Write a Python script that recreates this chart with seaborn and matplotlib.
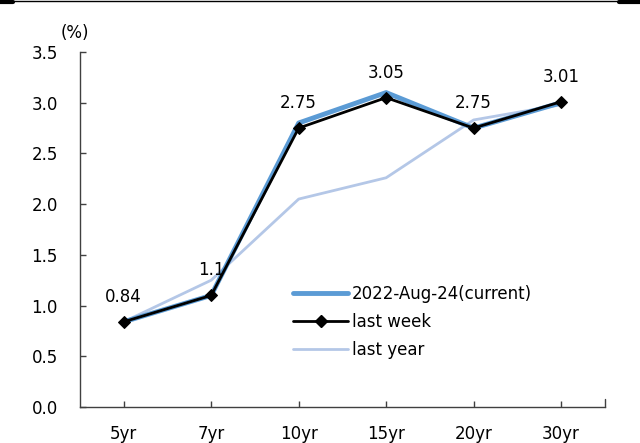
import matplotlib
matplotlib.use("Agg")
import matplotlib.pyplot as plt
import seaborn as sns
import pandas as pd
from matplotlib.lines import Line2D

tenors = ["5yr", "7yr", "10yr", "15yr", "20yr", "30yr"]
current = [0.84, 1.10, 2.80, 3.10, 2.75, 3.00]
last_week = [0.84, 1.10, 2.75, 3.05, 2.75, 3.01]
last_year = [0.84, 1.25, 2.05, 2.26, 2.83, 2.98]
label_values = last_week
series_names = ["2022-Aug-24(current)", "last week", "last year"]
y_ticks = [0.0, 0.5, 1.0, 1.5, 2.0, 2.5, 3.0, 3.5]

sns.set_theme(style="white")
plt.rcParams["font.family"] = ["DejaVu Sans"]
plt.rcParams["text.color"] = "black"
FS = 12

fig = plt.figure(figsize=(6.4, 4.43), dpi=100)
ax = fig.add_axes([0.125, 0.0813, 0.82, 0.8013])

df = pd.DataFrame({"tenor": tenors, "current": current,
                   "last_week": last_week, "last_year": last_year})

sns.lineplot(data=df, x="tenor", y="last_year", ax=ax, color="#B4C7E7",
             linewidth=2.0, sort=False, zorder=2)
sns.lineplot(data=df, x="tenor", y="current", ax=ax, color="#5B9BD5",
             linewidth=3.5, sort=False, zorder=3)
sns.lineplot(data=df, x="tenor", y="last_week", ax=ax, color="black",
             linewidth=2.0, marker="D", markersize=6, markeredgecolor="black",
             sort=False, zorder=4)

for i, v in enumerate(label_values):
    ax.annotate(f"{v:g}", (i, v), xytext=(0, 18), textcoords="offset points",
                ha="center", va="center", fontsize=FS, color="black")

ax.set_xlim(-0.5, len(tenors) - 0.5)
ax.set_ylim(0, 3.5)
ax.set_yticks(y_ticks)
ax.set_yticklabels([f"{t:.1f}" for t in y_ticks])
ax.set_xticks(range(len(tenors)))
ax.set_xticklabels(tenors)
ax.set_xlabel("")
ax.set_ylabel("")

for s in ["top", "right"]:
    ax.spines[s].set_visible(False)
for s in ["left", "bottom"]:
    ax.spines[s].set_color("#404040")
    ax.spines[s].set_linewidth(1.0)

ax.tick_params(axis="both", direction="in", length=4, width=1.0,
               color="#404040", labelsize=FS, labelcolor="black")
ax.tick_params(axis="y", pad=16, left=True)
ax.tick_params(axis="x", pad=13, bottom=True)

# closing tick at the right end of the category axis
ax.plot([len(tenors) - 0.5] * 2, [0, 0.08], color="#404040", lw=1.0,
        clip_on=False)

ax.text(-0.01, 1.053, "(%)", transform=ax.transAxes, fontsize=FS,
        ha="center", va="center", color="black")

handles = [
    Line2D([], [], color="#5B9BD5", linewidth=3.5),
    Line2D([], [], color="black", linewidth=2.0, marker="D", markersize=6),
    Line2D([], [], color="#B4C7E7", linewidth=2.0),
]
leg = ax.legend(handles, series_names, loc="upper left",
                bbox_to_anchor=(0.406, 0.345), frameon=False, fontsize=FS,
                handlelength=3.3, handletextpad=0.25, labelspacing=0.6,
                borderaxespad=0, borderpad=0)
for t in leg.get_texts():
    t.set_color("black")

# rule across the top of the figure
fig.add_artist(Line2D([0, 1], [0.997, 0.997], color="black", lw=1.0,
                      transform=fig.transFigure))
fig.add_artist(Line2D([0, 0.02], [0.996, 0.996], color="black", lw=3.0,
                      transform=fig.transFigure))
fig.add_artist(Line2D([0.967, 1], [0.996, 0.996], color="black", lw=3.0,
                      transform=fig.transFigure))

fig.savefig("out.png", dpi=100)
